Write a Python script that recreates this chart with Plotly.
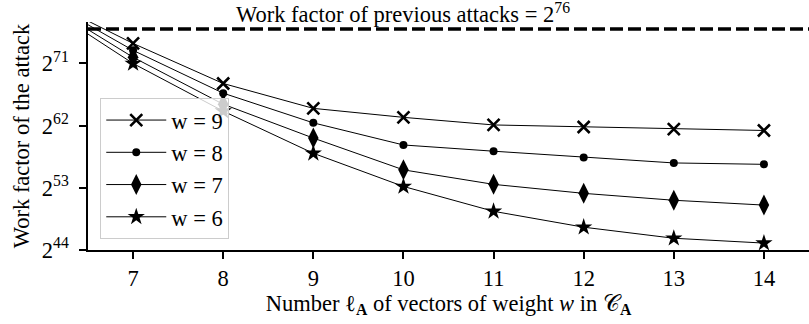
import plotly.graph_objects as go

# x positions (6 is only the lead-in of the lines, no marker there)
ell = [6, 7, 8, 9, 10, 11, 12, 13, 14]
# log2 of the work factor
wf_w9 = [80.4, 73.9, 68.1, 64.5, 63.2, 62.1, 61.8, 61.5, 61.3]
wf_w8 = [80.3, 72.9, 66.7, 62.4, 59.2, 58.3, 57.4, 56.6, 56.4]
wf_w7 = [79.9, 71.9, 65.1, 60.2, 55.6, 53.5, 52.2, 51.2, 50.5]
wf_w6 = [79.5, 71.0, 64.1, 58.0, 53.2, 49.6, 47.3, 45.7, 45.0]
series_names = ["w = 9", "w = 8", "w = 7", "w = 6"]
previous_attacks = 76
ytick_exps = [44, 53, 62, 71]
xticks = [7, 8, 9, 10, 11, 12, 13, 14]

FONT = "Liberation Serif"
FS = 22.5

styles = [
    dict(symbol="x-thin", size=12, line=dict(width=2.6, color="black")),
    dict(symbol="circle", size=8, line=dict(width=0)),
    dict(symbol="diamond-tall", size=15, line=dict(width=0)),
    dict(symbol="star", size=13, line=dict(width=0)),
]

fig = go.Figure()
for i, (name, vals) in enumerate(zip(series_names, [wf_w9, wf_w8, wf_w7, wf_w6])):
    # lead-in segment (no marker)
    fig.add_trace(go.Scatter(
        x=ell[:2], y=vals[:2], mode="lines",
        line=dict(color="black", width=1), showlegend=False, hoverinfo="skip",
    ))
    fig.add_trace(go.Scatter(
        x=ell[1:], y=vals[1:], mode="lines+markers", name=name,
        line=dict(color="black", width=1),
        marker=dict(color="black", **styles[i]),
        legendgroup=name,
    ))

fig.add_hline(y=previous_attacks, line=dict(color="black", width=3.5, dash="13px,5px"))
fig.add_annotation(
    x=10, y=previous_attacks, xref="x", yref="y",
    text="Work factor of previous attacks = 2<sup>76</sup>",
    showarrow=False, yanchor="bottom", yshift=0,
    font=dict(family=FONT, size=FS, color="black"),
)

fig.update_layout(
    width=809, height=324,
    margin=dict(l=88, r=0, t=22, b=74, autoexpand=False),
    paper_bgcolor="white", plot_bgcolor="white",
    font=dict(family=FONT, size=FS, color="black"),
    showlegend=True,
    legend=dict(
        x=0.017, y=0.667, xanchor="left", yanchor="top",
        bgcolor="rgba(255,255,255,0.8)", bordercolor="#cccccc", borderwidth=1,
        font=dict(family=FONT, size=FS, color="black"),
        tracegroupgap=0, itemwidth=60,
    ),
    xaxis=dict(
        range=[6.5, 14.5], tickvals=xticks, ticks="outside", ticklen=7, tickwidth=1.5,
        tickcolor="black", showline=True, linecolor="black", linewidth=1.5,
        showgrid=False, zeroline=False, automargin=False,
        title=dict(text="Number ℓ<sub><b>A</b></sub> of vectors of weight <i>w</i> in 𝒞<sub><b>A</b></sub>",
                   standoff=2, font=dict(family=FONT, size=FS)),
    ),
    yaxis=dict(
        range=[44, 77], tickvals=ytick_exps,
        ticktext=[f"2<sup>{e}</sup>" for e in ytick_exps],
        ticks="outside", ticklen=7, tickwidth=1.5, tickcolor="black",
        ticklabelstandoff=6,
        showline=True, linecolor="black", linewidth=1.5,
        showgrid=False, zeroline=False, automargin=False,
        title=dict(text="Work factor of the attack", standoff=6, font=dict(family=FONT, size=FS)),
    ),
)

# remove the browser's default 8px page margin so the figure fills the window
fig.write_html("out.html", config={"displayModeBar": False},
               post_script="document.body.style.margin='0';")
